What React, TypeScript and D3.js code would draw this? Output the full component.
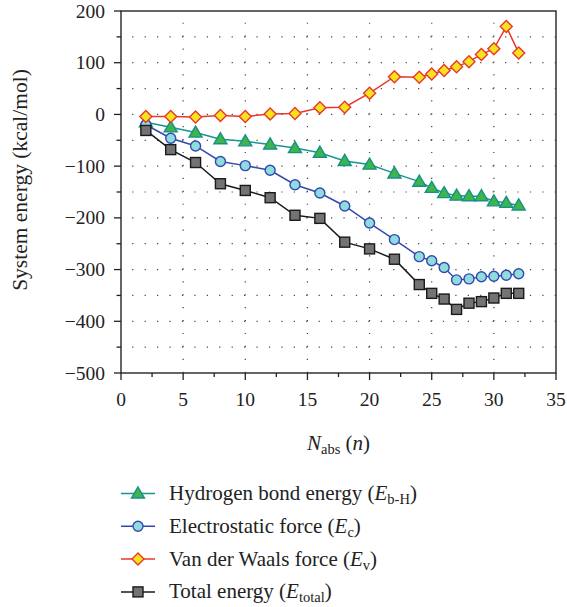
import React from "react";
import * as d3 from "d3";

// Number of absorbed molecules
const nAbs = [2, 4, 6, 8, 10, 12, 14, 16, 18, 20, 22, 24, 25, 26, 27, 28, 29, 30, 31, 32];

// Energies in kcal/mol
const hydrogenBond = [-15, -25, -35, -48, -52, -58, -65, -74, -90, -97, -114, -130, -142, -152, -157, -158, -158, -168, -171, -176];
const electrostatic = [-20, -46, -61, -91, -99, -108, -136, -152, -177, -210, -242, -275, -283, -296, -320, -318, -314, -313, -311, -308];
const vanDerWaals = [-4, -4, -5, -2, -4, 1, 2, 13, 14, 41, 73, 72, 78, 85, 92, 102, 116, 127, 170, 119];
const totalEnergy = [-31, -68, -93, -134, -147, -161, -195, -201, -247, -260, -280, -329, -346, -357, -377, -365, -362, -355, -346, -346];

const xTicks = [0, 5, 10, 15, 20, 25, 30, 35];
const yTicks = [200, 100, 0, -100, -200, -300, -400, -500];

const W = 567;
const H = 607;
const M = { left: 121, right: 556, top: 11, bottom: 373 };
const FONT = "Liberation Serif, DejaVu Serif, Times New Roman, serif";

type Marker = "triangle" | "circle" | "diamond" | "square";

interface Series {
  key: string;
  values: number[];
  line: string;
  fill: string;
  stroke: string;
  marker: Marker;
}

const series: Series[] = [
  { key: "hb", values: hydrogenBond, line: "#17968c", fill: "#3db54a", stroke: "#17908a", marker: "triangle" },
  { key: "ec", values: electrostatic, line: "#3548b0", fill: "#8fdcdc", stroke: "#3548b0", marker: "circle" },
  { key: "vw", values: vanDerWaals, line: "#e8382c", fill: "#f6e31c", stroke: "#e8382c", marker: "diamond" },
  { key: "tot", values: totalEnergy, line: "#1a1a1a", fill: "#737373", stroke: "#1a1a1a", marker: "square" },
];

function MarkerShape({ kind, cx, cy, fill, stroke }: { kind: Marker; cx: number; cy: number; fill: string; stroke: string }) {
  const common = { fill, stroke, strokeWidth: 1.4 };
  if (kind === "circle") return <circle cx={cx} cy={cy} r={5} {...common} />;
  if (kind === "square") return <rect x={cx - 5} y={cy - 5} width={10} height={10} {...common} />;
  if (kind === "diamond") {
    const r = 6;
    return <path d={`M${cx},${cy - r}L${cx + r},${cy}L${cx},${cy + r}L${cx - r},${cy}Z`} {...common} strokeLinejoin="miter" />;
  }
  const s = 6.5;
  return <path d={`M${cx},${cy - s}L${cx + s},${cy + s * 0.7}L${cx - s},${cy + s * 0.7}Z`} {...common} strokeLinejoin="miter" />;
}

export default function App() {
  const x = d3.scaleLinear().domain([0, 35]).range([M.left, M.right]);
  const y = d3.scaleLinear().domain([-500, 200]).range([M.bottom, M.top]);

  const line = d3
    .line<number>()
    .x((_, i) => x(nAbs[i]))
    .y((d) => y(d));

  const xMinor = d3.range(0, 35.01, 2.5).filter((v) => v % 5 !== 0);
  const yMinor = d3.range(-450, 200, 100);
  const hGrid = d3.range(-450, 200, 50);
  const vGrid = [5, 10, 15, 20, 25, 30];
  const hStep = x(1) - x(0);
  const vStep = y(0) - y(25);

  const legendItems = [
    { s: series[0], label: "Hydrogen bond energy (", sub: "b-H" },
    { s: series[1], label: "Electrostatic force (", sub: "c" },
    { s: series[2], label: "Van der Waals force (", sub: "v" },
    { s: series[3], label: "Total energy (", sub: "total" },
  ];

  const textStyle = { fontFamily: FONT };

  return (
    <svg width={W} height={H} style={{ position: "absolute", left: 0, top: 0, background: "#fff", fontFamily: FONT }}>
      {/* dotted grid */}
      <g stroke="#444" strokeWidth={1.2}>
        {hGrid.map((v) => (
          <line key={`h${v}`} x1={M.left + hStep * 0.9} x2={M.right} y1={y(v)} y2={y(v)} strokeDasharray={`1.2 ${hStep - 1.2}`} />
        ))}
        {vGrid.map((v) => (
          <line key={`v${v}`} x1={x(v)} x2={x(v)} y1={M.top + vStep * 0.9} y2={M.bottom} strokeDasharray={`1.2 ${vStep - 1.2}`} />
        ))}
      </g>

      {/* frame */}
      <rect x={M.left} y={M.top} width={M.right - M.left} height={M.bottom - M.top} fill="none" stroke="#333" strokeWidth={1.5} />

      {/* ticks */}
      <g stroke="#222" strokeWidth={1.3}>
        {xTicks.map((v) => (
          <line key={`xt${v}`} x1={x(v)} x2={x(v)} y1={M.bottom} y2={M.bottom + 7} />
        ))}
        {xMinor.map((v) => (
          <line key={`xm${v}`} x1={x(v)} x2={x(v)} y1={M.bottom} y2={M.bottom + 4} />
        ))}
        {yTicks.map((v) => (
          <line key={`yt${v}`} x1={M.left - 7} x2={M.left} y1={y(v)} y2={y(v)} />
        ))}
        {yMinor.map((v) => (
          <line key={`ym${v}`} x1={M.left - 4.5} x2={M.left} y1={y(v)} y2={y(v)} />
        ))}
      </g>

      <g fontSize={19.5} fill="#222" style={textStyle}>
        {xTicks.map((v) => (
          <text key={`xl${v}`} x={x(v)} y={M.bottom + 33} textAnchor="middle" style={textStyle}>
            {v}
          </text>
        ))}
        {yTicks.map((v) => (
          <text key={`yl${v}`} x={M.left - 16} y={y(v) + 6.5} textAnchor="end" style={textStyle}>
            {v < 0 ? `\u2212${Math.abs(v)}` : v}
          </text>
        ))}
      </g>

      {/* axis titles */}
      <text x={(M.left + M.right) / 2} y={450} textAnchor="middle" fontSize={21} fill="#222" style={textStyle}>
        <tspan fontStyle="italic">N</tspan>
        <tspan fontSize={14.5} dy={4}>abs</tspan>
        <tspan dy={-4}> (</tspan>
        <tspan fontStyle="italic">n</tspan>
        <tspan>)</tspan>
      </text>
      <text
        transform={`translate(27,${(M.top + M.bottom) / 2 - 12}) rotate(-90)`}
        textAnchor="middle"
        fontSize={21.5}
        fill="#222"
        style={textStyle}
      >
        System energy (kcal/mol)
      </text>

      {/* series */}
      {series.map((s) => (
        <g key={s.key}>
          <path d={line(s.values) ?? ""} fill="none" stroke={s.line} strokeWidth={1.5} />
          {s.values.map((v, i) => (
            <MarkerShape key={i} kind={s.marker} cx={x(nAbs[i])} cy={y(v)} fill={s.fill} stroke={s.stroke} />
          ))}
        </g>
      ))}

      {/* legend */}
      {legendItems.map((it, i) => {
        const cy = 493.5 + i * 32.8;
        return (
          <g key={it.s.key}>
            <line x1={121} x2={155} y1={cy} y2={cy} stroke={it.s.line} strokeWidth={1.5} />
            <MarkerShape kind={it.s.marker} cx={138} cy={cy} fill={it.s.fill} stroke={it.s.stroke} />
            <text x={169} y={cy + 6.5} fontSize={21} fill="#222" style={textStyle}>
              {it.label}
              <tspan fontStyle="italic">E</tspan>
              <tspan fontSize={14.5} dy={4}>{it.sub}</tspan>
              <tspan dy={-4}>)</tspan>
            </text>
          </g>
        );
      })}
    </svg>
  );
}
